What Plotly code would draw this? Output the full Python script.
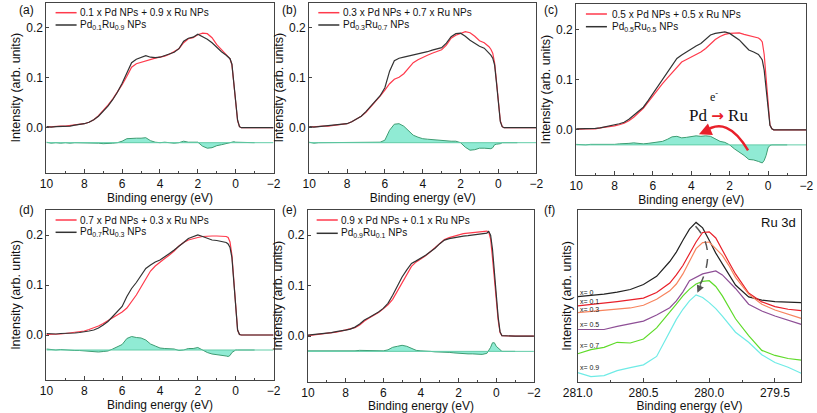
import plotly.graph_objects as go

W, H = 817, 413

# ---------------- data: valence-band spectra (panels a-e) ----------------
ENERGY = [10, 9.75, 9.5, 9.25, 9, 8.75, 8.5, 8.25, 8, 7.75, 7.5, 7.25, 7, 6.75, 6.5, 6.25,
          6, 5.75, 5.5, 5.25, 5, 4.75, 4.5, 4.25, 4, 3.75, 3.5, 3.25, 3, 2.75, 2.5, 2.25,
          2, 1.75, 1.5, 1.25, 1, 0.75, 0.5, 0.4, 0.3, 0.2, 0.1, 0, -0.1, -0.2, -0.3, -1, -2]

A_SUM = [0.001, 0.002, 0.002, 0.003, 0.003, 0.004, 0.005, 0.006, 0.008, 0.011, 0.016, 0.024, 0.034, 0.045, 0.057, 0.071,
         0.086, 0.103, 0.121, 0.128, 0.131, 0.134, 0.137, 0.139, 0.141, 0.143, 0.147, 0.152, 0.158, 0.170, 0.178, 0.180,
         0.186, 0.189, 0.188, 0.180, 0.166, 0.156, 0.146, 0.142, 0.138, 0.126, 0.088, 0.047, 0.014, 0.002, 0, 0, 0]
A_ALLOY = [0.002, 0.001, 0.002, 0.002, 0.003, 0.003, 0.005, 0.006, 0.008, 0.011, 0.016, 0.023, 0.032, 0.043, 0.056, 0.071,
           0.089, 0.111, 0.130, 0.137, 0.140, 0.144, 0.141, 0.140, 0.141, 0.144, 0.147, 0.151, 0.158, 0.173, 0.179, 0.181,
           0.187, 0.182, 0.177, 0.170, 0.160, 0.152, 0.145, 0.142, 0.138, 0.127, 0.090, 0.048, 0.015, 0.002, 0, 0, 0]

B_SUM = [0.001, 0.002, 0.002, 0.003, 0.003, 0.004, 0.005, 0.006, 0.008, 0.012, 0.017, 0.023, 0.031, 0.041, 0.052, 0.063,
         0.075, 0.088, 0.097, 0.101, 0.108, 0.120, 0.130, 0.136, 0.141, 0.145, 0.149, 0.152, 0.156, 0.165, 0.179, 0.185,
         0.189, 0.192, 0.190, 0.183, 0.174, 0.170, 0.162, 0.157, 0.149, 0.129, 0.092, 0.045, 0.014, 0.002, 0, 0, 0]
B_ALLOY = [0.002, 0.001, 0.002, 0.003, 0.003, 0.004, 0.005, 0.006, 0.008, 0.012, 0.017, 0.023, 0.032, 0.042, 0.053, 0.064,
           0.080, 0.113, 0.134, 0.139, 0.141, 0.143, 0.145, 0.147, 0.149, 0.152, 0.155, 0.157, 0.160, 0.169, 0.182, 0.188,
           0.189, 0.183, 0.175, 0.169, 0.163, 0.159, 0.150, 0.145, 0.139, 0.125, 0.089, 0.042, 0.012, 0.002, 0, 0, 0]

C_SUM = [0.001, 0.002, 0.002, 0.002, 0.002, 0.004, 0.005, 0.006, 0.008, 0.010, 0.013, 0.018, 0.025, 0.034, 0.043, 0.055,
         0.068, 0.080, 0.092, 0.103, 0.113, 0.125, 0.135, 0.140, 0.145, 0.149, 0.155, 0.162, 0.172, 0.180, 0.186, 0.190,
         0.192, 0.193, 0.193, 0.190, 0.188, 0.185, 0.183, 0.180, 0.175, 0.150, 0.100, 0.045, 0.010, 0.002, 0, 0, 0]
C_ALLOY = [0.002, 0.002, 0.002, 0.003, 0.003, 0.004, 0.006, 0.007, 0.009, 0.012, 0.015, 0.021, 0.029, 0.037, 0.045, 0.058,
           0.072, 0.085, 0.099, 0.114, 0.129, 0.142, 0.149, 0.155, 0.162, 0.167, 0.172, 0.180, 0.189, 0.192, 0.193, 0.195,
           0.192, 0.185, 0.179, 0.169, 0.159, 0.155, 0.150, 0.145, 0.139, 0.119, 0.079, 0.039, 0.009, 0.002, 0, 0, 0]

D_SUM = [0.001, 0.001, 0.002, 0.002, 0.003, 0.004, 0.005, 0.006, 0.008, 0.011, 0.014, 0.018, 0.023, 0.029, 0.035, 0.041,
         0.046, 0.054, 0.066, 0.080, 0.096, 0.113, 0.128, 0.138, 0.146, 0.153, 0.160, 0.168, 0.178, 0.185, 0.190, 0.193,
         0.195, 0.197, 0.198, 0.198, 0.198, 0.198, 0.197, 0.195, 0.186, 0.160, 0.105, 0.050, 0.010, 0.001, 0, 0, 0]
D_ALLOY = [0.003, 0.002, 0.002, 0.003, 0.003, 0.003, 0.004, 0.005, 0.006, 0.008, 0.010, 0.014, 0.020, 0.027, 0.037, 0.047,
           0.057, 0.077, 0.093, 0.105, 0.120, 0.133, 0.140, 0.146, 0.150, 0.156, 0.163, 0.170, 0.177, 0.185, 0.193, 0.196,
           0.200, 0.197, 0.193, 0.190, 0.189, 0.187, 0.185, 0.182, 0.175, 0.155, 0.103, 0.050, 0.010, 0.001, 0, 0, 0]

E_SUM = [0.001, 0.002, 0.003, 0.004, 0.005, 0.006, 0.008, 0.010, 0.012, 0.014, 0.017, 0.022, 0.030, 0.036, 0.041, 0.047,
         0.054, 0.062, 0.073, 0.089, 0.105, 0.121, 0.138, 0.147, 0.153, 0.159, 0.167, 0.175, 0.184, 0.191, 0.195, 0.198,
         0.201, 0.203, 0.204, 0.205, 0.207, 0.208, 0.208, 0.206, 0.192, 0.155, 0.110, 0.068, 0.032, 0.007, 0.001, 0, 0]
E_ALLOY = [0.002, 0.003, 0.004, 0.004, 0.005, 0.007, 0.009, 0.010, 0.012, 0.014, 0.018, 0.024, 0.032, 0.037, 0.042, 0.048,
           0.055, 0.065, 0.081, 0.099, 0.117, 0.131, 0.144, 0.149, 0.154, 0.160, 0.167, 0.174, 0.183, 0.190, 0.193, 0.195,
           0.197, 0.198, 0.199, 0.200, 0.201, 0.202, 0.204, 0.207, 0.200, 0.172, 0.127, 0.078, 0.038, 0.009, 0.001, 0, 0]

SUM_LABELS = ["0.1 x Pd NPs + 0.9 x Ru NPs", "0.3 x Pd NPs + 0.7 x Ru NPs", "0.5 x Pd NPs + 0.5 x Ru NPs",
              "0.7 x Pd NPs + 0.3 x Ru NPs", "0.9 x Pd NPs + 0.1 x Ru NPs"]
ALLOY_LABELS = ["Pd<sub>0.1</sub>Ru<sub>0.9</sub> NPs", "Pd<sub>0.3</sub>Ru<sub>0.7</sub> NPs",
                "Pd<sub>0.5</sub>Ru<sub>0.5</sub> NPs", "Pd<sub>0.7</sub>Ru<sub>0.3</sub> NPs",
                "Pd<sub>0.9</sub>Ru<sub>0.1</sub> NPs"]
DIFF_OFFSET = -0.03
DIFF_END = -1.0

# ---------------- data: Ru 3d spectra (panel f) ----------------
F_ENERGY = [281.0, 280.9, 280.8, 280.7, 280.6, 280.5, 280.4, 280.3, 280.25, 280.2, 280.15, 280.1,
            280.05, 280.0, 279.95, 279.9, 279.85, 279.8, 279.7, 279.6, 279.5, 279.4, 279.3]
F_X00 = [84.3, 85.3, 86.7, 88.7, 91.3, 96.3, 104.3, 119.0, 128.3, 140.0, 151.0, 157.7,
         152.3, 140.0, 127.3, 116.7, 105.7, 95.7, 84.0, 80.7, 79.3, 78.7, 78.3]
F_X01 = [75.0, 76.3, 77.7, 79.3, 81.0, 82.7, 88.3, 97.7, 105.7, 115.0, 126.7, 138.3,
         147.7, 148.3, 142.3, 131.0, 118.3, 106.7, 87.7, 79.0, 74.3, 71.7, 70.3]
F_X03 = [68.3, 69.3, 70.3, 71.7, 73.0, 75.7, 81.7, 90.0, 96.7, 106.7, 120.0, 131.7,
         137.7, 138.3, 131.7, 125.0, 115.0, 103.3, 86.7, 76.7, 71.0, 66.7, 62.7]
F_X05 = [51.7, 51.7, 51.7, 54.7, 57.3, 60.0, 66.0, 73.3, 80.0, 89.0, 100.0, 103.3,
         106.7, 108.3, 109.7, 105.7, 99.0, 92.3, 76.7, 70.0, 65.0, 61.0, 56.7]
F_X07 = [27.7, 31.7, 34.0, 39.0, 38.3, 42.3, 53.3, 68.3, 76.7, 85.0, 91.7, 96.7,
         99.3, 100.0, 94.3, 85.0, 73.3, 62.3, 45.7, 31.0, 26.0, 23.0, 21.3]
F_X09 = [9.0, 5.0, 6.0, 11.0, 14.0, 16.7, 25.0, 50.0, 61.7, 71.7, 80.0, 86.0,
         83.3, 78.3, 72.3, 65.0, 56.7, 49.0, 39.0, 26.7, 19.0, 14.3, 8.3]
F_LABELS = ["x= 0", "x= 0.1", "x= 0.3", "x= 0.5", "x= 0.7", "x= 0.9"]
F_LABEL_Y = [88.5, 79.5, 71.0, 56.5, 36.0, 14.5]

# ---------------- style ----------------
FONT = "Liberation Sans, Arial, sans-serif"
SERIF = "Liberation Serif, Times New Roman, serif"
RED = "#FF3A4C"
BLACK = "#333333"
GREEN = "#3E9C72"
BASE = "#62CDA8"
FILL = "rgba(125,232,205,0.85)"
F_COLORS = ["#222222", "#E8202A", "#F7845E", "#8E4F96", "#5FDB2A", "#6FEBE6"]

# panel boxes in pixels: left, right, top, bottom
BOXES = [(32.3, 265.7, 2.7, 172.7), (302.3, 535.7, 2.7, 172.7), (576.7, 813.3, 4.3, 175.0),
         (32.3, 265.7, 210.0, 380.0), (301.0, 533.3, 209.8, 381.7), (578.3, 808.0, 210.0, 381.7)]
# legend layout in pixels: line x0, line x1, text x, red y, black y
LEG = [(41.7, 63.3, 65, 12.7, 25.0), (311.7, 333.3, 335, 12.7, 25.0), (586.7, 608.3, 611, 14.0, 26.7),
       (41.7, 63.3, 65, 220.0, 232.3), (310.0, 331.7, 333, 220.0, 233.3)]
PANEL_TAGS = [("(a)", 2, 10), ("(b)", 272, 10), ("(c)", 542, 10), ("(d)", 2, 210), ("(e)", 272, 210), ("(f)", 542, 210)]


def px(x):
    return x / W


def py(y):
    return 1 - y / H


fig = go.Figure()
shapes = []
annotations = []

sums = [A_SUM, B_SUM, C_SUM, D_SUM, E_SUM]
alloys = [A_ALLOY, B_ALLOY, C_ALLOY, D_ALLOY, E_ALLOY]

for i in range(5):
    n = i + 1
    xa = "x" if n == 1 else f"x{n}"
    ya = "y" if n == 1 else f"y{n}"
    s, a = sums[i], alloys[i]
    sub_x = [e for e in ENERGY if e >= DIFF_END]
    diff = [a[k] - s[k] + DIFF_OFFSET for k in range(len(sub_x))]
    fig.add_trace(go.Scatter(x=sub_x, y=[DIFF_OFFSET] * len(sub_x), mode="lines", line=dict(width=0),
                             showlegend=False, hoverinfo="skip", xaxis=xa, yaxis=ya))
    fig.add_trace(go.Scatter(x=sub_x, y=diff, mode="lines", fill="tonexty", fillcolor=FILL,
                             line=dict(color=GREEN, width=1), showlegend=False, xaxis=xa, yaxis=ya))
    fig.add_trace(go.Scatter(x=[ENERGY[0], ENERGY[-1]], y=[DIFF_OFFSET, DIFF_OFFSET], mode="lines",
                             line=dict(color=BASE, width=1), showlegend=False, hoverinfo="skip",
                             xaxis=xa, yaxis=ya))
    fig.add_trace(go.Scatter(x=ENERGY, y=s, mode="lines", line=dict(color=RED, width=1.2),
                             name=SUM_LABELS[i], showlegend=False, xaxis=xa, yaxis=ya))
    fig.add_trace(go.Scatter(x=ENERGY, y=a, mode="lines", line=dict(color=BLACK, width=1.2),
                             name=ALLOY_LABELS[i], showlegend=False, xaxis=xa, yaxis=ya))
    # legend
    lx0, lx1, tx, ry, by = LEG[i]
    shapes.append(dict(type="line", xref="paper", yref="paper", x0=px(lx0), x1=px(lx1), y0=py(ry), y1=py(ry),
                       line=dict(color=RED, width=1.5)))
    shapes.append(dict(type="line", xref="paper", yref="paper", x0=px(lx0), x1=px(lx1), y0=py(by), y1=py(by),
                       line=dict(color=BLACK, width=1.5)))
    annotations.append(dict(xref="paper", yref="paper", x=px(tx), y=py(ry), text=SUM_LABELS[i],
                            showarrow=False, xanchor="left", yanchor="middle",
                            font=dict(family=FONT, size=10, color="#111")))
    annotations.append(dict(xref="paper", yref="paper", x=px(tx), y=py(by), text=ALLOY_LABELS[i],
                            showarrow=False, xanchor="left", yanchor="middle",
                            font=dict(family=FONT, size=10, color="#111")))

# panel f traces
for k, ys in enumerate([F_X00, F_X01, F_X03, F_X05, F_X07, F_X09]):
    fig.add_trace(go.Scatter(x=F_ENERGY, y=ys, mode="lines", line=dict(color=F_COLORS[k], width=1.2),
                             name=F_LABELS[k], showlegend=False, xaxis="x6", yaxis="y6"))
    annotations.append(dict(xref="x6", yref="y6", x=F_ENERGY[0], y=F_LABEL_Y[k], text=F_LABELS[k],
                            showarrow=False, xanchor="left", yanchor="middle",
                            font=dict(family=FONT, size=7, color="#222")))

# panel c annotation: charge transfer
shapes.append(dict(type="path", xref="x3", yref="y3", path="M 1.04,-0.041 Q 2.15,0.031 3.35,-0.005",
                   line=dict(color="#E8202A", width=2.5)))
annotations.append(dict(xref="x3", yref="y3", axref="x3", ayref="y3", x=3.6, y=-0.009, ax=3.3, ay=-0.004,
                        text="", showarrow=True, arrowhead=2, arrowsize=1, arrowwidth=2.5, arrowcolor="#E8202A"))
annotations.append(dict(xref="x3", yref="y3", x=2.6, y=0.028,
                        text="Pd <span style='font-family:DejaVu Sans;font-size:15px;color:#E8202A'><b>→</b></span> Ru",
                        showarrow=False, font=dict(family=SERIF, size=17, color="#111")))
annotations.append(dict(xref="x3", yref="y3", x=2.82, y=0.066, text="e<sup>-</sup>",
                        showarrow=False, font=dict(family=SERIF, size=12, color="#111")))

# panel f annotations
shapes.append(dict(type="path", xref="x6", yref="y6", path="M 280.104,154 Q 279.93,130 280.085,92",
                   line=dict(color="#555", width=1.5, dash="dash")))
annotations.append(dict(xref="x6", yref="y6", axref="x6", ayref="y6", x=280.09, y=88, ax=280.06, ay=97,
                        text="", showarrow=True, arrowhead=2, arrowsize=1, arrowwidth=1.5, arrowcolor="#555"))
annotations.append(dict(xref="x6 domain", yref="y6 domain", x=0.985, y=0.93, text="Ru 3d", showarrow=False,
                        xanchor="right", yanchor="middle", font=dict(family=FONT, size=13, color="#111")))

for tag, x, y in PANEL_TAGS:
    annotations.append(dict(xref="paper", yref="paper", x=px(x), y=py(y), text=tag, showarrow=False,
                            xanchor="left", yanchor="middle", font=dict(family=FONT, size=12, color="#111")))

layout = dict(width=W, height=H, margin=dict(l=0, r=0, t=0, b=0), paper_bgcolor="white",
              plot_bgcolor="white", showlegend=False, font=dict(family=FONT, size=12, color="#111"),
              shapes=shapes, annotations=annotations)

axis_common = dict(showline=True, mirror=True, linecolor="#444", linewidth=1, showgrid=False, zeroline=False,
                   ticks="inside", tickcolor="#444", tickfont=dict(family=FONT, size=12, color="#111"))

for idx, (l, r, t, b) in enumerate(BOXES):
    n = idx + 1
    xk = "xaxis" if n == 1 else f"xaxis{n}"
    yk = "yaxis" if n == 1 else f"yaxis{n}"
    yanchor = "y" if n == 1 else f"y{n}"
    xanchor = "x" if n == 1 else f"x{n}"
    if n < 6:
        xr = [ENERGY[0], -2]
        xa = dict(range=xr, tick0=0, dtick=2, ticklen=4,
                  minor=dict(dtick=1, ticks="inside", ticklen=2, tickcolor="#444"))
        ya = dict(range=[-0.09, 0.25], tickvals=[0, 0.1, 0.2], tickformat=".1f", ticklen=3,
                  title=dict(text="Intensity (arb. units)", font=dict(size=12.5), standoff=2))
    else:
        xa = dict(range=[281.0, 279.3], tick0=281.0, dtick=0.5, tickformat=".1f", ticklen=4,
                  minor=dict(dtick=0.25, ticks="inside", ticklen=2, tickcolor="#444"))
        ya = dict(range=[0, 170], showticklabels=False, ticks="",
                  title=dict(text="Intensity (arb. units)", font=dict(size=12.5), standoff=2))
    xa.update(axis_common)
    ya.update({k: v for k, v in axis_common.items() if k not in ya})
    xa.update(domain=[px(l), px(r)], anchor=yanchor,
              title=dict(text="Binding energy (eV)", font=dict(size=12), standoff=2))
    ya.update(domain=[py(b), py(t)], anchor=xanchor)
    layout[xk] = xa
    layout[yk] = ya

fig.update_layout(**layout)
fig.write_html("out.html")
